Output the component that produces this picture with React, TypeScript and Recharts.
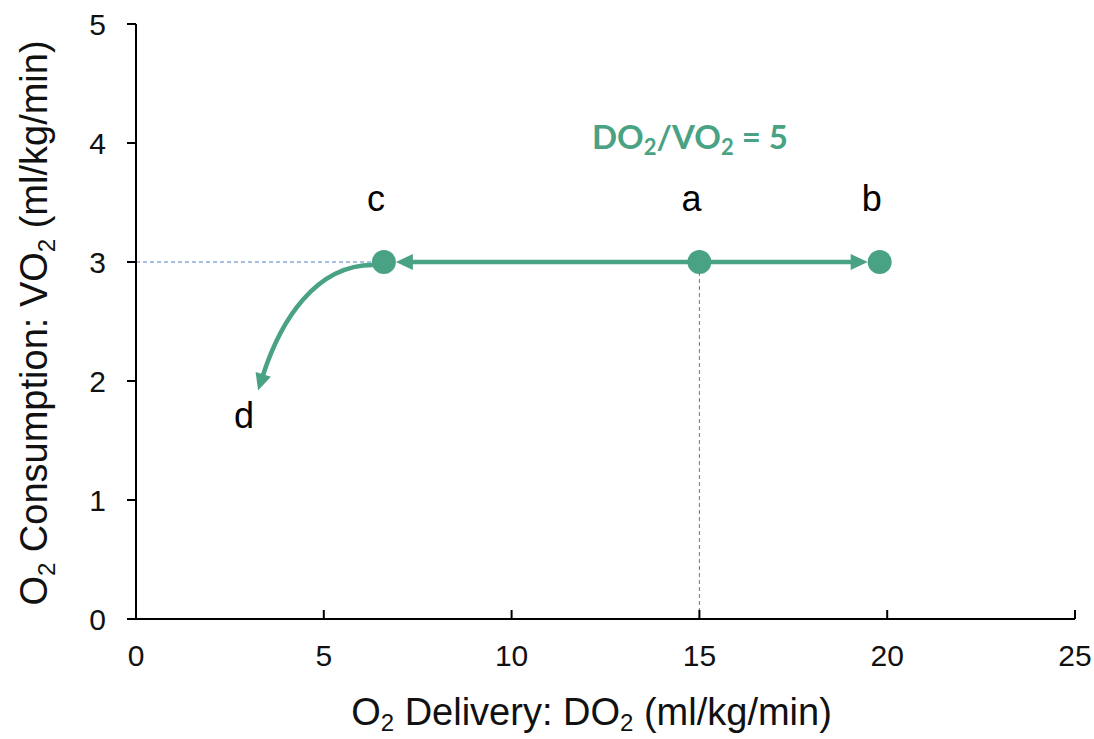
import React from 'react';
import { ComposedChart, Scatter, XAxis, YAxis, ReferenceLine, ReferenceDot } from 'recharts';

const xTicks = [0, 5, 10, 15, 20, 25];
const yTicks = [0, 1, 2, 3, 4, 5];
const pointNames = ['c', 'a', 'b'];
const pointX = [6.6, 15, 19.8];
const pointY = [3, 3, 3];
const dName = 'd';
const dX = 3.25;
const dY = 1.92;
const ratioX = 14.75;
const ratioY = 4.03;

const points = pointNames.map((n, i) => ({ name: n, x: pointX[i], y: pointY[i] }));
const byName = (n: string) => points.find((p) => p.name === n)!;

const GREEN = '#48a283';
const BLUE = '#4f7fc4';
const FONT = 'Liberation Sans, Arial, Helvetica, sans-serif';
const R = 12;

const Arrow = (props: any) => {
  const { x1, y1, x2, y2 } = props;
  const dx = x2 - x1, dy = y2 - y1;
  const L = Math.sqrt(dx * dx + dy * dy) || 1;
  const ux = dx / L, uy = dy / L;
  const tipX = x2 - ux * R, tipY = y2 - uy * R;
  const head = 17, hw = 8;
  const bx = tipX - ux * head, by = tipY - uy * head;
  return (
    <g>
      <line x1={x1} y1={y1} x2={bx + ux * 2} y2={by + uy * 2} stroke={GREEN} strokeWidth={4.5} />
      <polygon
        points={`${tipX},${tipY} ${bx - uy * hw},${by + ux * hw} ${bx + uy * hw},${by - ux * hw}`}
        fill={GREEN}
      />
    </g>
  );
};

const CurveArrow = (props: any) => {
  const { x1, y1, x2, y2 } = props;
  const sx = x1 - 11, sy = y1 + 3;
  const w = sx - x2, h = y2 - sy;
  const c1x = sx - 0.5 * w, c1y = sy;
  const c2x = x2 + 0.16 * h, c2y = y2 - 0.5 * h;
  let ux = x2 - c2x, uy = y2 - c2y;
  const L = Math.sqrt(ux * ux + uy * uy) || 1;
  ux /= L; uy /= L;
  const head = 17, hw = 8;
  const bx = x2 - ux * head, by = y2 - uy * head;
  const c2bx = bx - ux * 0.5 * h * 0.9, c2by = by - uy * 0.5 * h * 0.9;
  return (
    <g>
      <path
        d={`M${sx},${sy} C${c1x},${c1y} ${c2bx},${c2by} ${bx + ux * 2},${by + uy * 2}`}
        fill="none"
        stroke={GREEN}
        strokeWidth={4.5}
      />
      <polygon
        points={`${x2},${y2} ${bx - uy * hw},${by + ux * hw} ${bx + uy * hw},${by - ux * hw}`}
        fill={GREEN}
      />
      <text x={x2 - 14} y={y2 + 37} textAnchor="middle" fontSize={36} fontFamily={FONT} fill="#000">{dName}</text>
    </g>
  );
};

const PointShape = (props: any) => {
  const { cx, cy, payload } = props;
  return (
    <g>
      <circle cx={cx} cy={cy} r={R} fill={GREEN} />
      <text x={cx - 8} y={cy - 51} fontSize={36} fontFamily={FONT} fill="#000" textAnchor="middle">
        {payload.name}
      </text>
    </g>
  );
};

const XTick = (props: any) => {
  const { x, y, payload } = props;
  return (
    <g>
      <line x1={x} y1={y} x2={x} y2={y - 9} stroke="#000" strokeWidth={2} />
      <text x={x} y={y + 47} textAnchor="middle" fontSize={30} fontFamily={FONT} fill="#111">
        {payload.value}
      </text>
    </g>
  );
};

const YTick = (props: any) => {
  const { x, y, payload } = props;
  return (
    <text x={x} y={y + 11} textAnchor="end" fontSize={30} fontFamily={FONT} fill="#111">
      {payload.value}
    </text>
  );
};

const XTitle = (props: any) => {
  const vb = props.viewBox || {};
  const cx = vb.x + vb.width / 2 - 14;
  return (
    <text x={cx} y={725} textAnchor="middle" fontSize={38} fontFamily={FONT} fill="#111">
      O<tspan fontSize={24} dy={6}>2</tspan>
      <tspan dy={-6}> Delivery: DO</tspan>
      <tspan fontSize={24} dy={6}>2</tspan>
      <tspan dy={-6}> (ml/kg/min)</tspan>
    </text>
  );
};

const YTitle = () => {
  return (
    <text
      x={0}
      y={0}
      transform="translate(47,323) rotate(-90)"
      textAnchor="middle"
      fontSize={38}
      fontFamily={FONT}
      fill="#111"
    >
      O<tspan fontSize={24} dy={8}>2</tspan>
      <tspan dy={-8}> Consumption: VO</tspan>
      <tspan fontSize={24} dy={8}>2</tspan>
      <tspan dy={-8}> (ml/kg/min)</tspan>
    </text>
  );
};

const RatioLabel = (props: any) => {
  const vb = props.viewBox || {};
  const x = vb.x + (vb.width || 0) / 2;
  const y = vb.y + (vb.height || 0) / 2;
  return (
    <text x={x} y={y + 10} textAnchor="middle" fontSize={33} fontWeight="bold" fontFamily="Lato, sans-serif" fill={GREEN}>
      DO<tspan fontSize={22} dy={6}>2</tspan>
      <tspan dy={-6}>/VO</tspan>
      <tspan fontSize={22} dy={6}>2</tspan>
      <tspan dy={-6}> = 5</tspan>
    </text>
  );
};

export default function App() {
  const a = byName('a');
  const b = byName('b');
  const c = byName('c');
  return (
    <div style={{ position: 'absolute', left: 0, top: 0, background: '#fff' }}>
      <ComposedChart width={1094} height={739} margin={{ top: 24, right: 19, bottom: 0, left: 0 }}>
        <XAxis
          type="number"
          dataKey="x"
          domain={[0, 25]}
          ticks={xTicks}
          interval={0}
          tickLine={false}
          tickSize={0}
          tickMargin={0}
          tick={<XTick />}
          axisLine={{ stroke: '#000', strokeWidth: 2 }}
          height={120}
          label={<XTitle />}
        />
        <YAxis
          type="number"
          dataKey="y"
          domain={[0, 5]}
          ticks={yTicks}
          interval={0}
          tickSize={9}
          tickMargin={21}
          tickLine={{ stroke: '#000', strokeWidth: 2 }}
          tick={<YTick />}
          axisLine={{ stroke: '#000', strokeWidth: 2 }}
          width={136}
        />
        <ReferenceLine
          segment={[{ x: 0, y: c.y }, { x: c.x, y: c.y }]}
          stroke={BLUE}
          strokeWidth={1}
          strokeDasharray="4 3"
        />
        <ReferenceLine
          segment={[{ x: a.x, y: 0 }, { x: a.x, y: a.y }]}
          stroke={BLUE}
          strokeWidth={1}
          strokeDasharray="4 3"
        />
        <ReferenceLine segment={[{ x: a.x, y: a.y }, { x: b.x, y: b.y }]} shape={<Arrow />} />
        <ReferenceLine segment={[{ x: a.x, y: a.y }, { x: c.x, y: c.y }]} shape={<Arrow />} />
        <ReferenceLine segment={[{ x: c.x, y: c.y }, { x: dX, y: dY }]} shape={<CurveArrow />} />
        <ReferenceDot x={ratioX} y={ratioY} r={0} fill="none" stroke="none" label={<RatioLabel />} />
        <Scatter data={points} dataKey="y" shape={<PointShape />} isAnimationActive={false} />
        <YTitle />
      </ComposedChart>
    </div>
  );
}
